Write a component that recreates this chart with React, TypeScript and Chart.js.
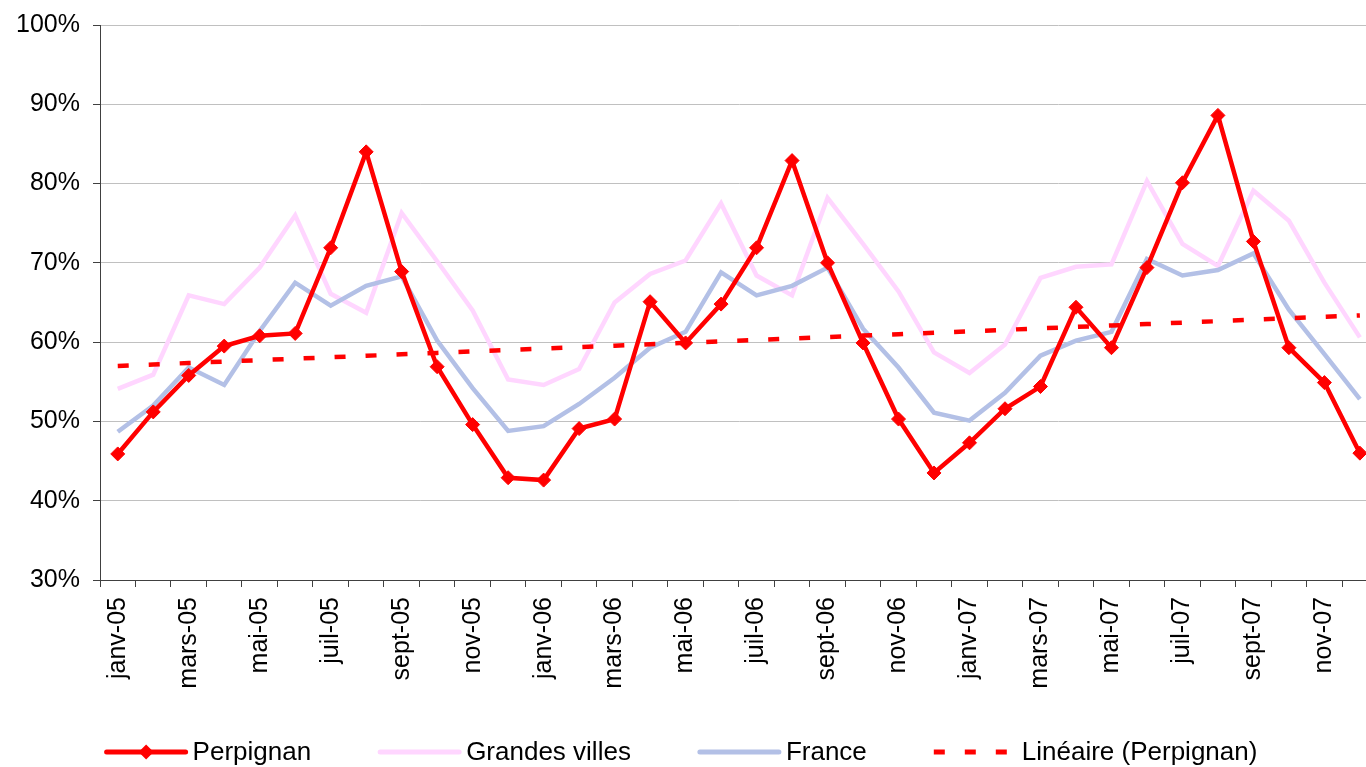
import React, { useEffect, useRef } from "react";
import { Chart, registerables } from "chart.js";

Chart.register(...registerables);

const months = [
  "janv-05", "févr-05", "mars-05", "avr-05", "mai-05", "juin-05", "juil-05", "août-05", "sept-05", "oct-05", "nov-05", "déc-05",
  "janv-06", "févr-06", "mars-06", "avr-06", "mai-06", "juin-06", "juil-06", "août-06", "sept-06", "oct-06", "nov-06", "déc-06",
  "janv-07", "févr-07", "mars-07", "avr-07", "mai-07", "juin-07", "juil-07", "août-07", "sept-07", "oct-07", "nov-07", "déc-07",
];

const perpignan = [
  45.9, 51.2, 55.8, 59.5, 60.8, 61.1, 71.9, 84.0, 68.9, 56.9, 49.6, 42.9,
  42.6, 49.1, 50.3, 65.1, 59.9, 64.8, 71.9, 82.9, 70.0, 59.9, 50.3, 43.5,
  47.3, 51.6, 54.4, 64.4, 59.3, 69.4, 80.1, 88.6, 72.7, 59.3, 54.9, 46.0,
];

const grandesVilles = [
  54.1, 55.9, 65.9, 64.8, 69.4, 76.0, 66.1, 63.7, 76.3, 70.2, 64.0, 55.3,
  54.6, 56.6, 65.0, 68.6, 70.3, 77.5, 68.4, 65.9, 78.2, 72.4, 66.4, 58.7,
  56.1, 59.7, 68.1, 69.5, 69.8, 80.3, 72.4, 69.6, 79.1, 75.3, 67.5, 60.6,
];

const france = [
  48.7, 52.0, 56.8, 54.6, 61.4, 67.5, 64.6, 67.1, 68.3, 60.2, 54.2, 48.8,
  49.4, 52.2, 55.5, 59.3, 61.3, 68.8, 65.9, 67.1, 69.4, 61.7, 56.8, 51.1,
  50.1, 53.6, 58.3, 60.2, 61.3, 70.5, 68.4, 69.1, 71.2, 64.1, 58.5, 52.8,
];

const yTicks = { min: 30, max: 100, step: 10 };

const seriesNames = ["Perpignan", "Grandes villes", "France", "Linéaire (Perpignan)"];

// Least-squares linear trend of the Perpignan series (as Excel's "Linéaire" trendline)
function linearTrend(values: number[]): number[] {
  const n = values.length;
  let sx = 0, sy = 0, sxx = 0, sxy = 0;
  values.forEach((v, i) => {
    sx += i; sy += v; sxx += i * i; sxy += i * v;
  });
  const slope = (n * sxy - sx * sy) / (n * sxx - sx * sx);
  const intercept = (sy - slope * sx) / n;
  return values.map((_, i) => intercept + slope * i);
}

const FONT = '"Liberation Sans", Arial, sans-serif';

const legendPlugin = {
  id: "bottomLegend",
  afterDraw(chart: any) {
    const ctx = chart.ctx as CanvasRenderingContext2D;
    ctx.save();
    ctx.font = `26px ${FONT}`;
    const sampleW = 83;
    const gapText = 5;
    const gapItem = 67;
    const datasets = chart.data.datasets;
    const widths = datasets.map((ds: any) => ctx.measureText(ds.label).width);
    const total =
      widths.reduce((s: number, w: number) => s + sampleW + gapText + w, 0) +
      gapItem * (datasets.length - 1);
    let x = 681 - total / 2;
    const y = 752;
    datasets.forEach((ds: any, i: number) => {
      ctx.save();
      ctx.strokeStyle = ds.borderColor;
      ctx.lineWidth = 5;
      if (ds.borderDash && ds.borderDash.length) {
        ctx.setLineDash(ds.borderDash);
        ctx.lineCap = "butt";
      } else {
        ctx.lineCap = "round";
      }
      ctx.beginPath();
      ctx.moveTo(x + (ctx.lineCap === "round" ? 2 : 0), y);
      ctx.lineTo(x + sampleW - (ctx.lineCap === "round" ? 2 : 0), y);
      ctx.stroke();
      ctx.setLineDash([]);
      if (ds.pointRadius > 0) {
        const cx = x + sampleW / 2;
        const r = 7.5;
        ctx.fillStyle = ds.pointBackgroundColor;
        ctx.beginPath();
        ctx.moveTo(cx - r, y);
        ctx.lineTo(cx, y - r);
        ctx.lineTo(cx + r, y);
        ctx.lineTo(cx, y + r);
        ctx.closePath();
        ctx.fill();
      }
      ctx.restore();
      ctx.fillStyle = "#000";
      ctx.textBaseline = "middle";
      ctx.textAlign = "left";
      ctx.fillText(ds.label, x + sampleW + gapText, y + 1);
      x += sampleW + gapText + widths[i] + gapItem;
    });
    ctx.restore();
  },
};

export default function App() {
  const canvasRef = useRef<HTMLCanvasElement | null>(null);

  useEffect(() => {
    document.body.style.margin = "0";
    document.body.style.overflow = "hidden";
    const canvas = canvasRef.current;
    if (!canvas) return;
    const trend = linearTrend(perpignan);
    const chart = new Chart(canvas, {
      type: "line",
      data: {
        labels: months,
        datasets: [
          {
            label: seriesNames[0],
            data: perpignan,
            borderColor: "#FF0000",
            backgroundColor: "#FF0000",
            borderWidth: 4.5,
            pointStyle: "rectRot",
            pointRadius: 7,
            pointBorderWidth: 1,
            pointBackgroundColor: "#FF0000",
            pointBorderColor: "#FF0000",
            tension: 0,
            order: 1,
          } as any,
          {
            label: seriesNames[1],
            data: grandesVilles,
            borderColor: "#FFD6FF",
            backgroundColor: "#FFD6FF",
            borderWidth: 4.5,
            pointRadius: 0,
            tension: 0,
            order: 3,
          },
          {
            label: seriesNames[2],
            data: france,
            borderColor: "#B3C0E6",
            backgroundColor: "#B3C0E6",
            borderWidth: 4.5,
            pointRadius: 0,
            tension: 0,
            order: 2,
          },
          {
            label: seriesNames[3],
            data: trend,
            borderColor: "#FF0000",
            backgroundColor: "#FF0000",
            borderWidth: 4.5,
            borderDash: [11, 20],
            borderCapStyle: "butt",
            pointRadius: 0,
            tension: 0,
            order: 0,
          },
        ],
      },
      options: {
        responsive: false,
        animation: false,
        events: [],
        layout: { padding: { top: 25, left: 0, right: 0, bottom: 0 } },
        plugins: {
          legend: { display: false },
          tooltip: { enabled: false },
          title: { display: false },
        },
        scales: {
          x: {
            type: "category",
            offset: true,
            afterFit: (scale: any) => {
              scale.height = 187;
            },
            grid: {
              display: true,
              drawOnChartArea: false,
              drawTicks: true,
              tickLength: 7,
              tickColor: "#404040",
              offset: true,
            },
            border: { display: true, color: "#404040", width: 1 },
            ticks: {
              autoSkip: false,
              minRotation: 90,
              maxRotation: 90,
              padding: 10,
              color: "#000",
              font: { family: FONT, size: 25 },
              callback: (_v: any, i: number) => (i % 2 === 0 ? months[i] : ""),
            },
          },
          y: {
            min: yTicks.min,
            max: yTicks.max,
            afterFit: (scale: any) => {
              scale.width = 100;
              scale.paddingTop = 0;
              scale.paddingBottom = 0;
            },
            grid: {
              color: "#C0C0C0",
              lineWidth: 1,
              tickLength: 7,
              tickColor: "#404040",
            },
            border: { display: true, color: "#404040", width: 1 },
            ticks: {
              stepSize: yTicks.step,
              padding: 13,
              color: "#000",
              font: { family: FONT, size: 25 },
              callback: (v: any) => `${v}%`,
            },
          },
        },
      },
      plugins: [legendPlugin],
    });
    return () => chart.destroy();
  }, []);

  return (
    <div style={{ position: "absolute", left: 0, top: 0, width: 1400, height: 767, overflow: "hidden" }}>
      <canvas ref={canvasRef} width={1400} height={767} style={{ display: "block" }} />
    </div>
  );
}
